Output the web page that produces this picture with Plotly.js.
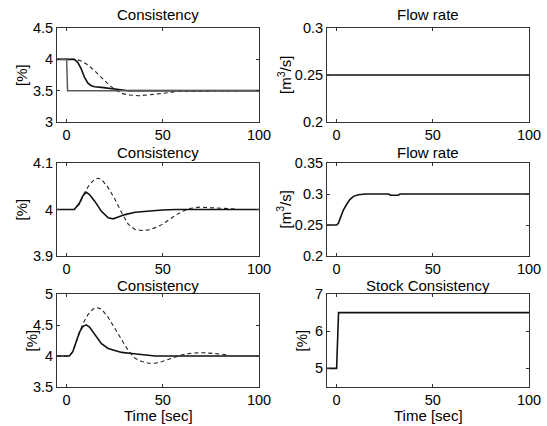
<!DOCTYPE html>
<html>
<head>
<meta charset="utf-8">
<script src="https://cdn.plot.ly/plotly-3.0.1.min.js"></script>
<style>html,body{margin:0;padding:0;background:#fff;}#chart{width:547px;height:426px;}</style>
</head>
<body>
<div id="chart"></div>
<script>
// ---- Data ----
// Panel 1: Consistency (top-left)
var tSet1 = [-5, 0, 0.5, 100];
var set1 = [4, 4, 3.5, 3.5];
var tSolid1 = [-5, 4, 5.8, 7.6, 9.3, 11.1, 12.8, 14.6, 18.1, 21.6, 25.1, 28.6, 32.1, 100];
var solid1 = [4, 4, 3.953, 3.847, 3.71, 3.62, 3.579, 3.563, 3.553, 3.542, 3.526, 3.511, 3.5, 3.5];
var tDash1 = [-5, 5, 7.6, 11.1, 14.6, 18.1, 21.6, 25.1, 28.6, 32.1, 37.4, 42.6, 47.9, 53.2, 57.6, 100];
var dash1 = [4, 4, 3.974, 3.91, 3.816, 3.71, 3.605, 3.516, 3.458, 3.432, 3.42, 3.432, 3.447, 3.468, 3.49, 3.5];

// Panel 2: Flow rate (top-right)
var tFlow1 = [-5, 100];
var flow1 = [0.25, 0.25];

// Panel 3: Consistency (middle-left)
var tSolid2 = [-5, 4, 6.7, 8.4, 10.2, 11.9, 14.6, 18.1, 21.6, 24.2, 26.8, 30.4, 35.6, 42.6, 49.7, 56.7, 100];
var solid2 = [4, 4, 4.014, 4.029, 4.037, 4.032, 4.018, 3.996, 3.982, 3.98, 3.984, 3.989, 3.994, 3.997, 3.999, 4, 4];
var tDash2 = [-5, 4, 6.7, 9.3, 11.9, 14.6, 16.3, 18.1, 21.6, 25.1, 28.6, 32.1, 35.6, 39.1, 42.6, 46.1, 49.7, 53.2, 56.7, 60.2, 63.7, 68.9, 74.2, 81.3, 88.3];
var dash2 = [4, 4, 4.012, 4.036, 4.054, 4.065, 4.067, 4.065, 4.047, 4.022, 3.993, 3.968, 3.957, 3.955, 3.956, 3.961, 3.968, 3.978, 3.988, 3.996, 4.002, 4.005, 4.004, 4.002, 4.001];

// Panel 4: Flow rate (middle-right)
var tFlow2 = [-5, 0, 0.9, 1.75, 3.5, 5.3, 7, 8.8, 11.4, 14.9, 27, 28, 32, 33, 100];
var flow2 = [0.25, 0.25, 0.2527, 0.2608, 0.2742, 0.2839, 0.2914, 0.2962, 0.2989, 0.3, 0.3, 0.298, 0.298, 0.3, 0.3];

// Panel 5: Consistency (bottom-left)
var tSolid3 = [-5, 1.4, 3.2, 4.9, 6.7, 8.4, 10.2, 11.9, 14.6, 18.1, 21.6, 25.1, 28.6, 33.9, 38, 42, 46, 100];
var solid3 = [4, 4, 4.069, 4.228, 4.386, 4.476, 4.503, 4.466, 4.344, 4.2, 4.122, 4.085, 4.058, 4.04, 4.025, 4.01, 4, 4];
var tDash3 = [-5, 1.4, 3.2, 5.8, 8.4, 11.1, 13.7, 15.5, 18.1, 21.6, 25.1, 28.6, 32.1, 35.6, 39.1, 42.6, 46.1, 49.7, 53.2, 56.7, 60.2, 65.5, 70.7, 76, 83];
var dash3 = [4, 4, 4.069, 4.307, 4.519, 4.667, 4.757, 4.783, 4.757, 4.624, 4.439, 4.254, 4.085, 3.963, 3.91, 3.884, 3.884, 3.91, 3.947, 3.989, 4.021, 4.048, 4.053, 4.042, 4.021];

// Panel 6: Stock Consistency (bottom-right)
var tStock = [-5, 0, 1, 100];
var stock = [5, 5, 6.5, 6.5];

// Titles and labels
var panelTitles = ["Consistency", "Flow rate", "Consistency", "Flow rate", "Consistency", "Stock Consistency"];
var yLabels = ["[%]", "[m<sup>3</sup>/s]", "[%]", "[m<sup>3</sup>/s]", "[%]", "[%]"];
var xLabel = "Time [sec]";
var xTicks = [0, 50, 100];

// ---- Styling & layout ----
var W = 547, H = 426;
var FONT = "Liberation Sans, Arial, sans-serif";
var solidLine = {color: "#111", width: 1.6};
var dashLine = {color: "#222", width: 1.1, dash: "4px,3px"};
var setLine = {color: "#5a5a5a", width: 1.5};

function px(x) { return x / W; }
function py(y) { return 1 - y / H; }

var colPx = [[57, 259], [327, 529]];
var rowPx = [[28, 122], [163, 256], [294, 387]];

var yRanges = [[3, 4.5], [0.2, 0.3], [3.9, 4.1], [0.2, 0.35], [3.5, 5], [4.5, 7]];
var yTickVals = [[3, 3.5, 4, 4.5], [0.2, 0.25, 0.3], [3.9, 4, 4.1], [0.2, 0.25, 0.3, 0.35], [3.5, 4, 4.5, 5], [5, 6, 7]];
var yTickText = [["3", "3.5", "4", "4.5"], ["0.2", "0.25", "0.3"], ["3.9", "4", "4.1"], ["0.2", "0.25", "0.3", "0.35"], ["3.5", "4", "4.5", "5"], ["5", "6", "7"]];

var traces = [];
function tr(x, y, line, idx) {
  var s = idx === 0 ? "" : String(idx + 1);
  traces.push({x: x, y: y, type: "scatter", mode: "lines", line: line,
    xaxis: "x" + s, yaxis: "y" + s, hoverinfo: "skip", showlegend: false});
}
// Panel 1
tr(tDash1, dash1, dashLine, 0);
tr(tSolid1, solid1, solidLine, 0);
tr(tSet1, set1, setLine, 0);
// Panel 2
tr(tFlow1, flow1, solidLine, 1);
// Panel 3
tr(tDash2, dash2, dashLine, 2);
tr(tSolid2, solid2, solidLine, 2);
// Panel 4
tr(tFlow2, flow2, solidLine, 3);
// Panel 5
tr(tDash3, dash3, dashLine, 4);
tr(tSolid3, solid3, solidLine, 4);
// Panel 6
tr(tStock, stock, solidLine, 5);

var layout = {
  width: W, height: H,
  margin: {l: 0, r: 0, t: 0, b: 0},
  paper_bgcolor: "#fff", plot_bgcolor: "#fff",
  font: {family: FONT, size: 14, color: "#000"},
  showlegend: false,
  annotations: []
};

var yTitleX = [21, 284, 21, 284, 31, 301];

for (var i = 0; i < 6; i++) {
  var c = i % 2, r = Math.floor(i / 2);
  var s = i === 0 ? "" : String(i + 1);
  layout["xaxis" + s] = {
    domain: [px(colPx[c][0]), px(colPx[c][1])],
    range: [-5, 100], anchor: "y" + s,
    tickvals: xTicks, ticktext: xTicks.map(String),
    ticks: "inside", ticklen: 3, tickcolor: "#333", tickwidth: 1,
    showline: true, linecolor: "#333", linewidth: 1, mirror: "ticks",
    showgrid: false, zeroline: false, fixedrange: true,
    tickfont: {family: FONT, size: 14.5, color: "#000"}
  };
  layout["yaxis" + s] = {
    domain: [py(rowPx[r][1]), py(rowPx[r][0])],
    range: yRanges[i], anchor: "x" + s,
    tickvals: yTickVals[i], ticktext: yTickText[i],
    ticks: "inside", ticklen: 3, tickcolor: "#333", tickwidth: 1,
    showline: true, linecolor: "#333", linewidth: 1, mirror: "ticks",
    showgrid: false, zeroline: false, fixedrange: true,
    tickfont: {family: FONT, size: 14.5, color: "#000"}
  };
  var cx = (colPx[c][0] + colPx[c][1]) / 2;
  var titleY = [14, 153, 285][r];
  layout.annotations.push({
    text: panelTitles[i], xref: "paper", yref: "paper",
    x: px(cx), y: py(titleY), xanchor: "center", yanchor: "middle",
    showarrow: false, font: {family: FONT, size: 15, color: "#000"}
  });
  var cy = (rowPx[r][0] + rowPx[r][1]) / 2;
  layout.annotations.push({
    text: yLabels[i], xref: "paper", yref: "paper",
    x: px(yTitleX[i]), y: py(cy), xanchor: "center", yanchor: "middle",
    textangle: -90, showarrow: false, font: {family: FONT, size: 15, color: "#000"}
  });
  if (r === 2) {
    layout.annotations.push({
      text: xLabel, xref: "paper", yref: "paper",
      x: px(cx), y: py(415), xanchor: "center", yanchor: "middle",
      showarrow: false, font: {family: FONT, size: 15, color: "#000"}
    });
  }
}

Plotly.newPlot("chart", traces, layout, {displayModeBar: false, staticPlot: true});
</script>
</body>
</html>
